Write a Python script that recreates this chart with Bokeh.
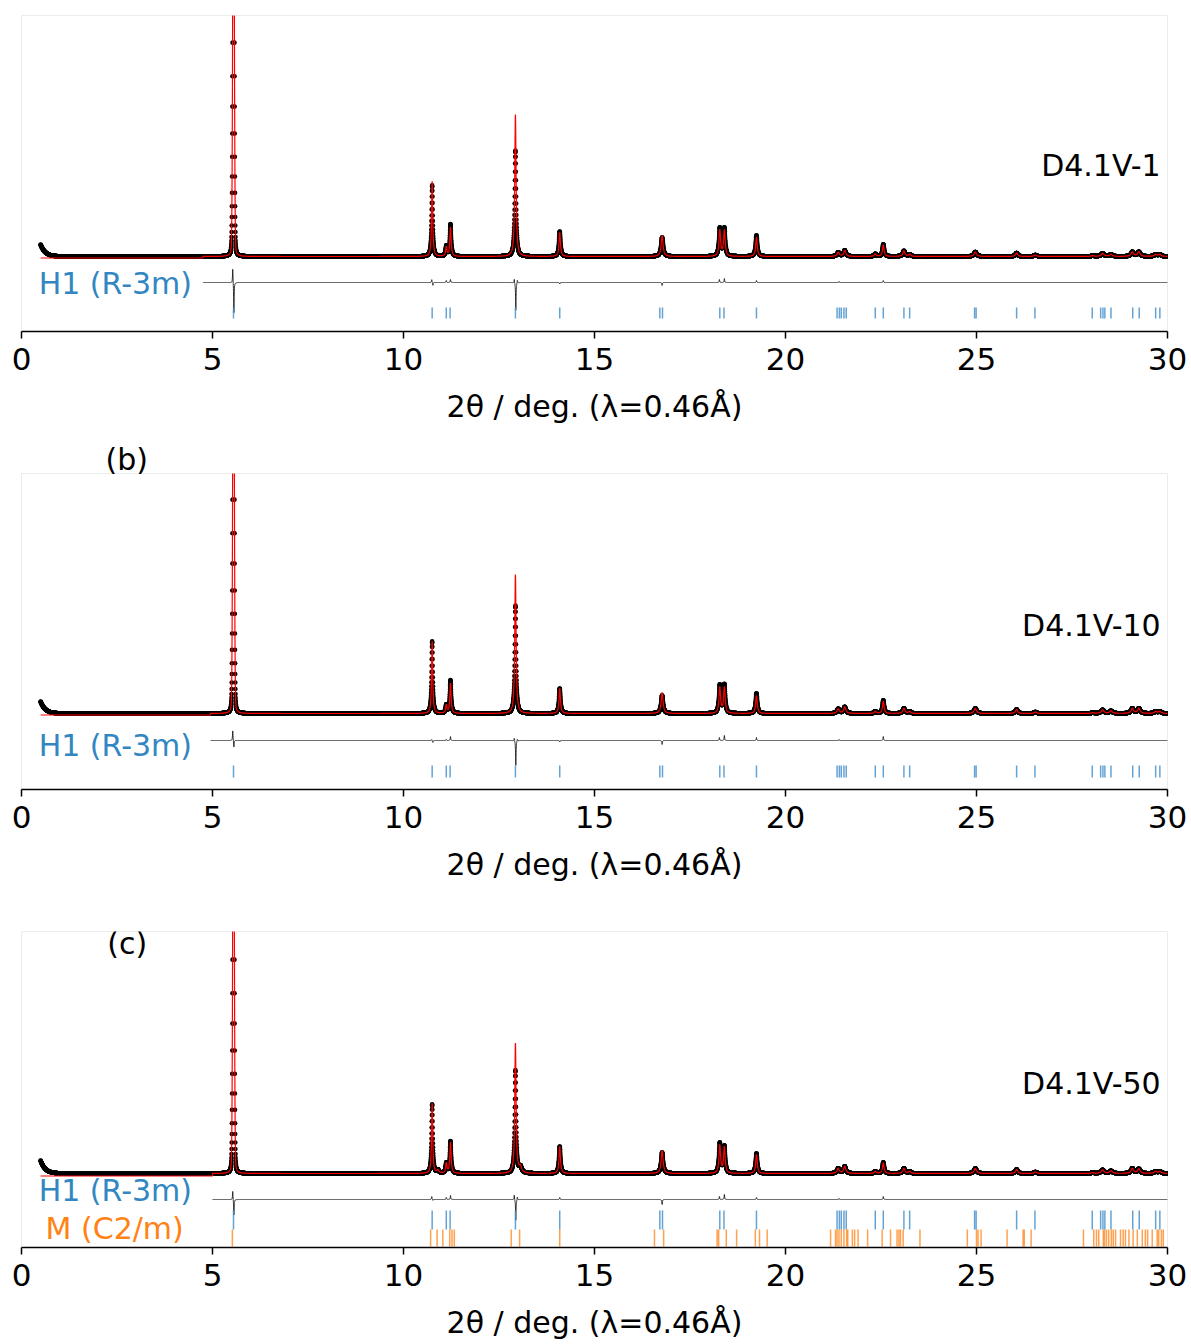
import numpy as np
from bokeh.plotting import figure
from bokeh.layouts import column
from bokeh.models import Range1d, Label, FixedTicker
from bokeh.embed import file_html
from bokeh.resources import INLINE

# ---------------- data ----------------
# reflection list used to build the observed / calculated profiles
PEAK_POS = [5.55, 10.75, 10.90, 11.12, 11.23, 12.93, 13.06, 14.09, 16.77, 18.28, 18.40, 19.24,
            21.38, 21.55, 22.35, 22.56, 23.10, 23.25, 24.97, 26.05, 26.54, 28.04, 28.30, 28.52,
            29.08, 29.25, 29.69, 29.80]
PEAK_FWHM = [0.045, 0.035, 0.06, 0.04, 0.04, 0.04, 0.08, 0.045, 0.06, 0.05, 0.05, 0.05,
             0.07, 0.07, 0.06, 0.05, 0.07, 0.07, 0.08, 0.07, 0.08, 0.08, 0.09, 0.09,
             0.08, 0.08, 0.08, 0.08]
# Lorentzian fraction of each pseudo-Voigt peak
PEAK_ETA = [0.12] + [1.0] * 27

OBS_A = [500, 71, 0, 10, 32, 106, 0, 25, 19, 28, 28, 21, 4, 6, 2.5, 12, 5.5, 2, 4.5, 3.5, 1.5, 0.8, 3, 2, 4.5, 4.5, 2, 2]
CALC_A = [500, 75, 0, 9, 29, 142, 0, 24, 21, 26, 26, 19, 4, 6, 2.5, 11.5, 5.5, 2, 4.5, 3.5, 1.5, 0.8, 3, 2, 4.5, 4.5, 2, 2]
OBS_B = [500, 72, 0, 8, 33, 108, 0, 25, 18, 28, 28.5, 20, 4.5, 6.5, 2, 13, 5, 2, 5, 4, 1.5, 0.8, 3.5, 2.5, 5, 5, 2, 2]
CALC_B = [500, 72, 0, 8, 30, 139, 0, 25, 21, 26, 26, 18, 4.5, 6.5, 2, 12, 5, 2, 5, 4, 1.5, 0.8, 3.5, 2.5, 5, 5, 2, 2]
OBS_C = [500, 69, 3, 10, 32, 103, 6, 27, 21, 30, 27, 20, 5, 7, 2, 11, 5, 2, 5, 4, 1.5, 0.8, 3.5, 2.5, 5, 4.5, 2, 2]
CALC_C = [500, 70, 3, 10, 31, 130, 6, 27, 23, 28, 26, 19, 5, 7, 2, 10.5, 5, 2, 5, 4, 1.5, 0.8, 3.5, 2.5, 5, 4.5, 2, 2]

# low-angle rise of the observed data at 2theta = 0.5
LOW_ANGLE_AMP = [12, 12, 13]
LOW_ANGLE_DECAY = 0.12
# start of refinement range and level of the calculated line before it
REFINE_START = [4.75, 4.95, 5.0]
CALC_PRE_LEVEL = [-1.5, -1.5, -2.5]

# difference curve (obs - calc) features
DIFF_POS = [5.53, 5.56, 10.74, 10.77, 11.12, 11.23, 12.90, 12.94, 12.98, 14.09, 16.77, 18.27, 18.40, 19.24, 21.40, 22.56]
DIFF_A = [15, -31, 3, -3, 2, 3, 4, -28, 3, -1.5, -3, 3, 4, 2, 1, 2]
DIFF_B = [10, -7, 1, -2, 1, 4, 3, -25, 2, -1.5, -4, 3, 5, 3, 1, 4]
DIFF_C = [9, -16, 3, -1, 2, 4, 5, -21, 3, 2, -5, 3, 5, 2, 1, 3]

# Bragg reflection markers
H1_TICKS = [5.55, 10.75, 11.12, 11.22, 12.93, 14.09, 16.71, 16.78, 18.28, 18.39, 19.24,
            21.35, 21.41, 21.46, 21.53, 21.59, 22.35, 22.56, 23.10, 23.25, 24.95, 24.99,
            26.05, 26.53, 28.03, 28.25, 28.31, 28.36, 28.52, 29.09, 29.26, 29.69, 29.80]
M_TICKS = [5.52, 10.71, 10.88, 11.03, 11.21, 11.27, 11.33, 12.82, 13.04, 14.09, 16.57, 16.81,
           18.21, 18.25, 18.45, 18.72, 19.21, 19.32, 19.52, 21.18, 21.31, 21.35, 21.40, 21.46,
           21.53, 21.60, 21.63, 21.75, 21.81, 21.90, 22.15, 22.53, 22.75, 22.92, 22.97, 23.01,
           23.08, 23.52, 24.76, 25.00, 25.04, 25.12, 25.80, 26.22, 26.25, 26.43, 27.80, 28.07,
           28.14, 28.20, 28.32, 28.35, 28.40, 28.46, 28.53, 28.58, 28.64, 28.77, 28.84, 28.90,
           28.99, 29.10, 29.21, 29.34, 29.42, 29.48, 29.60, 29.73, 29.77, 29.84, 29.89]

SAMPLE_NAMES = ["D4.1V-1", "D4.1V-10", "D4.1V-50"]
PANEL_TAGS = ["(b)", "(c)"]
X_TICKS = [0, 5, 10, 15, 20, 25, 30]
X_LABEL = "2θ / deg. (λ=0.46Å)"

# ---------------- helpers ----------------
FONT = "DejaVu Sans"
BLUE_TXT = "#3287c2"
BLUE_TICK = "#4a93cc"
ORANGE = "#ff8214"

x = np.round(np.arange(0.5, 30.0001, 0.0025), 5)


def pv_sum(xx, pos, amp, fwhm, eta):
    out = np.zeros_like(xx)
    for p_, a_, w_, e_ in zip(pos, amp, fwhm, eta):
        d = (xx - p_) / (w_ / 2.0)
        out += a_ * (e_ / (1.0 + d ** 2) + (1 - e_) * np.exp(-np.log(2) * d ** 2))
    return out


def make_panel(idx, obs_h, calc_h, diff_amp, y_lo, y_hi, top, bottom, diff_off):
    obs = pv_sum(x, PEAK_POS, obs_h, PEAK_FWHM, PEAK_ETA) + LOW_ANGLE_AMP[idx] * np.exp(-(x - 0.5) / LOW_ANGLE_DECAY)
    calc = pv_sum(x, PEAK_POS, calc_h, PEAK_FWHM, PEAK_ETA)
    xs = REFINE_START[idx]
    calc = np.where(x < xs, CALC_PRE_LEVEL[idx], calc)
    diff = pv_sum(x, DIFF_POS, diff_amp, [0.015] * len(DIFF_POS), [1.0] * len(DIFF_POS)) + diff_off
    m = x >= xs

    h = top + 316 + bottom
    p = figure(width=1189, height=h, x_range=Range1d(0, 30), y_range=Range1d(y_lo, y_hi),
               output_backend="svg", toolbar_location=None, y_axis_location=None,
               min_border_left=21, min_border_right=22, min_border_top=top,
               min_border_bottom=bottom)
    p.xgrid.visible = False
    p.ygrid.visible = False
    p.outline_line_color = "#ececec"
    p.background_fill_color = "white"
    p.border_fill_color = "white"

    ax = p.xaxis[0]
    ax.ticker = FixedTicker(ticks=X_TICKS)
    ax.major_tick_out = 7
    ax.major_tick_in = 0
    ax.minor_tick_out = 0
    ax.minor_tick_in = 0
    ax.axis_line_width = 1.5
    ax.major_tick_line_width = 1.5
    ax.major_label_text_font = FONT
    ax.major_label_text_font_size = "31px"
    ax.major_label_text_color = "black"
    ax.major_label_standoff = 9
    ax.axis_label = X_LABEL
    ax.axis_label_text_font = FONT
    ax.axis_label_text_font_size = "30px"
    ax.axis_label_text_font_style = "normal"
    ax.axis_label_text_color = "black"
    ax.axis_label_standoff = 16

    p.scatter(x, obs, size=4.6, marker="circle", fill_color="black", line_color=None)
    p.line(x, calc, line_color="red", line_width=1.2)
    p.line(x[m], diff[m], line_color="#111111", line_width=1, line_alpha=0.85)
    return p


def add_text(p, xx, yy, text, color="black", align="left"):
    p.add_layout(Label(x=xx, y=yy, text=text, text_font=FONT, text_font_size="30px",
                       text_color=color, text_baseline="middle", text_align=align))


pa = make_panel(0, OBS_A, CALC_A, DIFF_A, -75, 241, 15, 105, -26)
pa.segment(x0=H1_TICKS, y0=-51, x1=H1_TICKS, y1=-62, line_color=BLUE_TICK, line_width=1.5, line_alpha=0.85)
add_text(pa, 0.45, -27, "H1 (R-3m)", BLUE_TXT)
add_text(pa, 29.82, 91, SAMPLE_NAMES[0], align="right")

pb = make_panel(1, OBS_B, CALC_B, DIFF_B, -76, 240, 37, 105, -27)
pb.segment(x0=H1_TICKS, y0=-52, x1=H1_TICKS, y1=-64, line_color=BLUE_TICK, line_width=1.5, line_alpha=0.85)
add_text(pb, 0.45, -32, "H1 (R-3m)", BLUE_TXT)
add_text(pb, 29.82, 88, SAMPLE_NAMES[1], align="right")
pb.title.text = PANEL_TAGS[0]
pb.title.align = "left"
pb.title.offset = 84
pb.title.standoff = -6
pb.title.text_font = FONT
pb.title.text_font_size = "30px"
pb.title.text_font_style = "normal"
pb.title.text_color = "black"

pc = make_panel(2, OBS_C, CALC_C, DIFF_C, -74, 242, 37, 97, -26)
pc.segment(x0=H1_TICKS, y0=-37, x1=H1_TICKS, y1=-56, line_color=BLUE_TICK, line_width=1.5, line_alpha=0.85)
pc.segment(x0=M_TICKS, y0=-56, x1=M_TICKS, y1=-73, line_color=ORANGE, line_width=1.5, line_alpha=0.75)
add_text(pc, 0.45, -17, "H1 (R-3m)", BLUE_TXT)
add_text(pc, 0.63, -55, "M (C2/m)", ORANGE)
add_text(pc, 29.82, 90, SAMPLE_NAMES[2], align="right")
add_text(pc, 2.77, 230, PANEL_TAGS[1], align="center")

layout = column(pa, pb, pc, spacing=0)
open("out.html", "w").write(file_html(layout, INLINE))
